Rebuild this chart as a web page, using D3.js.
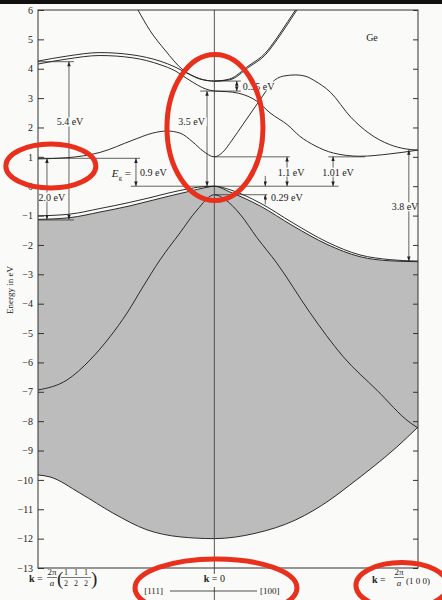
<!DOCTYPE html>
<html>
<head>
<meta charset="utf-8">
<script src="https://cdn.jsdelivr.net/npm/d3@7"></script>
<style>
  html, body { margin: 0; padding: 0; background: #fafaf8; }
  svg { display: block; font-family: "Liberation Serif", "DejaVu Serif", serif; }
</style>
</head>
<body>
<svg id="chart" width="442" height="600"></svg>
<script>
// energy ticks in eV
const energyTicks = [-13, -12, -11, -10, -9, -8, -7, -6, -5, -4, -3, -2, -1, 0, 1, 2, 3, 4, 5, 6];

// bands as [k, E]; k in units of 2π/a, negative = towards L (111), positive = towards X (100)
const bandC1 = [
  [-0.866, 0.93], [-0.724, 0.97], [-0.562, 1.15], [-0.4, 1.57], [-0.302, 1.81], [-0.233, 1.88],
  [-0.169, 1.81], [-0.105, 1.5], [-0.056, 1.2], [0, 1.0], [0.04, 1.15], [0.087, 1.57], [0.14, 2.1],
  [0.2, 2.7], [0.25, 3.2], [0.28, 3.5], [0.34, 3.75], [0.4, 3.79], [0.45, 3.74], [0.49, 3.6],
  [0.57, 3.2], [0.67, 2.35], [0.76, 1.8], [0.86, 1.42], [0.94, 1.27], [1, 1.23]
];
const bandC3 = [
  [-0.375, 6.0], [-0.316, 5.3], [-0.243, 4.64], [-0.154, 3.96], [-0.11, 3.77], [-0.071, 3.65],
  [0, 3.58], [0.074, 3.62], [0.17, 4.06], [0.25, 4.47], [0.307, 4.98], [0.36, 5.52], [0.41, 6.05]
];
const bandC4a = [
  [-0.866, 4.26], [-0.724, 4.43], [-0.562, 4.55], [-0.4, 4.47], [-0.267, 4.26], [-0.193, 4.06],
  [-0.12, 3.8], [-0.071, 3.66], [0, 3.58], [0.074, 3.65], [0.17, 4.11], [0.25, 4.53], [0.307, 5.05],
  [0.36, 5.6], [0.41, 6.12]
];
const bandC4b = [
  [-0.866, 4.16], [-0.724, 4.33], [-0.562, 4.45], [-0.4, 4.37], [-0.267, 4.14], [-0.193, 3.93],
  [-0.12, 3.6], [-0.046, 3.32], [0, 3.24], [0.06, 3.22], [0.117, 3.17], [0.214, 2.87], [0.273, 2.5],
  [0.361, 2.08], [0.42, 1.7], [0.494, 1.38], [0.584, 1.13], [0.715, 1.02], [0.862, 1.1], [1, 1.23]
];
const bandV1a = [
  [-0.866, -1.01], [-0.709, -0.95], [-0.562, -0.76], [-0.415, -0.55], [-0.316, -0.39], [-0.218, -0.22],
  [-0.12, -0.08], [-0.046, -0.01], [0, 0], [0.077, -0.12], [0.224, -0.57], [0.386, -1.25],
  [0.553, -1.9], [0.715, -2.34], [0.862, -2.5], [1, -2.55]
];
const bandV1b = [
  [-0.866, -1.13], [-0.709, -1.07], [-0.562, -0.88], [-0.415, -0.67], [-0.316, -0.5], [-0.218, -0.33],
  [-0.12, -0.17], [-0.046, -0.05], [0, 0], [0.077, -0.2], [0.224, -0.67], [0.386, -1.35],
  [0.553, -1.98], [0.715, -2.4], [0.862, -2.54], [1, -2.57]
];
const bandV2 = [
  [-0.866, -6.94], [-0.724, -6.6], [-0.611, -5.92], [-0.513, -5.13], [-0.429, -4.32], [-0.351, -3.43],
  [-0.267, -2.51], [-0.169, -1.59], [-0.085, -0.81], [0, -0.29], [0.052, -0.45], [0.126, -0.95],
  [0.209, -1.75], [0.307, -2.62], [0.469, -4.3], [0.632, -5.8], [0.799, -6.95], [0.961, -8.05], [1, -8.23]
];
const bandV3 = [
  [-0.866, -9.83], [-0.807, -9.9], [-0.66, -10.45], [-0.498, -11.13], [-0.331, -11.7], [-0.169, -11.94],
  [0, -12.0], [0.2, -11.82], [0.4, -11.36], [0.568, -10.68], [0.666, -10.17], [0.779, -9.56],
  [0.896, -8.88], [1, -8.2]
];

// gap annotations: [k, E from, E to]
const gapArrows = [
  [-0.714, 4.24, -1.13], [-0.822, 0.95, -1.13], [-0.385, 0.95, 0], [-0.036, 3.24, 0],
  [0.11, 3.58, 3.24], [0.357, 1.0, 0], [0.583, 1.01, 0], [0.955, 1.23, -2.55]
];
// guide lines: [E, k from, k to]
const refLines = [
  [4.24, -0.866, -0.69], [-1.15, -0.866, -0.69], [0.95, -0.866, -0.365], [0, -0.41, 0.61],
  [3.24, -0.07, 0.13], [3.58, 0, 0.13], [1.0, 0, 0.37], [1.0, 0.56, 0.74], [-0.29, 0, 0.26]
];
// labels: [k, E, text, anchor]
const gapLabels = [
  [-0.709, 2.19, '5.4 eV', 'middle'], [-0.798, -0.37, '2.0 eV', 'middle'],
  [-0.365, 0.45, '0.9 eV', 'start'], [-0.046, 2.19, '3.5 eV', 'end'],
  [0.14, 3.41, '0.35 eV', 'start'], [0.377, 0.48, '1.1 eV', 'middle'],
  [0.607, 0.48, '1.01 eV', 'middle'], [0.278, -0.4, '0.29 eV', 'start'],
  [0.936, -0.7, '3.8 eV', 'middle'], [0.774, 5.05, 'Ge', 'middle']
];
// highlight ellipses: [k, E, rx px, ry px]
const highlights = [
  [-0.803, 0.69, 45, 22], [0.003, 2.0, 48, 73], [0.008, -13.68, 81, 29], [0.921, -13.6, 46, 23]
];

const svg = d3.select('#chart');
const bg = '#fafaf8';
const ink = '#222';

const x = d3.scaleLinear().domain([-Math.sqrt(3) / 2, 1]).range([38, 418]);
const y = d3.scaleLinear().domain([6, -13]).range([10, 568]);

// scan border at top
svg.append('rect').attr('x', 0).attr('y', 0).attr('width', 442).attr('height', 4).attr('fill', '#111');

const defs = svg.append('defs');
defs.append('clipPath').attr('id', 'frame')
  .append('rect').attr('x', x(-Math.sqrt(3) / 2)).attr('y', y(6))
  .attr('width', x(1) - x(-Math.sqrt(3) / 2)).attr('height', y(-13) - y(6));
defs.append('marker')
  .attr('id', 'ah').attr('viewBox', '0 0 8 6').attr('refX', 8).attr('refY', 3)
  .attr('markerWidth', 5).attr('markerHeight', 3.5).attr('markerUnits', 'userSpaceOnUse')
  .attr('orient', 'auto-start-reverse')
  .append('path').attr('d', 'M0,0L8,3L0,6Z').attr('fill', ink);

const plot = svg.append('g').attr('clip-path', 'url(#frame)');

// shaded valence region
const area = d3.area().x(d => x(d[0])).y0(y(-13)).y1(d => y(d[1])).curve(d3.curveMonotoneX);
plot.append('path').datum(bandV1b).attr('d', area).attr('fill', '#bcbcbc');
plot.append('path').datum(bandV3).attr('d', area).attr('fill', bg);

// k = 0 line
svg.append('line').attr('x1', x(0)).attr('x2', x(0)).attr('y1', y(6)).attr('y2', y(-13) + 6)
  .attr('stroke', '#444').attr('stroke-width', 0.9);
svg.append('line').attr('x1', x(0)).attr('x2', x(0)).attr('y1', 587).attr('y2', 600)
  .attr('stroke', '#444').attr('stroke-width', 0.9);

// bands
const line = d3.line().x(d => x(d[0])).y(d => y(d[1])).curve(d3.curveMonotoneX);
[bandC1, bandC3, bandC4a, bandC4b, bandV1a, bandV1b, bandV2, bandV3].forEach(b => {
  plot.append('path').datum(b).attr('d', line)
    .attr('fill', 'none').attr('stroke', ink).attr('stroke-width', 0.95);
});

// guide lines
svg.selectAll('.ref').data(refLines).enter().append('line')
  .attr('x1', d => x(d[1])).attr('x2', d => x(d[2]))
  .attr('y1', d => y(d[0])).attr('y2', d => y(d[0]))
  .attr('stroke', ink).attr('stroke-width', 0.7);

// double arrows
svg.selectAll('.gap').data(gapArrows).enter().append('line')
  .attr('x1', d => x(d[0])).attr('x2', d => x(d[0]))
  .attr('y1', d => y(d[1])).attr('y2', d => y(d[2]))
  .attr('stroke', ink).attr('stroke-width', 0.7)
  .attr('marker-start', 'url(#ah)').attr('marker-end', 'url(#ah)');
// split-off arrows pointing in from outside
[[0.25, 0.35, 0], [0.25, -0.62, -0.29]].forEach(d => {
  svg.append('line').attr('x1', x(d[0])).attr('x2', x(d[0]))
    .attr('y1', y(d[1])).attr('y2', y(d[2]))
    .attr('stroke', ink).attr('stroke-width', 0.7).attr('marker-end', 'url(#ah)');
});

// labels with paper-coloured backing
function label(k, e, str, anchor, size) {
  const t = svg.append('text').attr('x', x(k)).attr('y', y(e)).attr('dy', '0.35em')
    .attr('text-anchor', anchor).attr('font-size', size || 10).attr('fill', ink).text(str);
  const b = t.node().getBBox();
  svg.insert('rect', () => t.node())
    .attr('x', b.x - 1).attr('y', b.y + 1).attr('width', b.width + 2).attr('height', b.height - 2)
    .attr('fill', bg);
  return t;
}
gapLabels.forEach(d => label(d[0], d[1], d[2], d[3]));
const eg = svg.append('text').attr('x', x(-0.409)).attr('y', y(0.45)).attr('dy', '0.35em')
  .attr('text-anchor', 'end').attr('font-size', 11).attr('fill', ink);
eg.append('tspan').attr('font-style', 'italic').text('E');
eg.append('tspan').attr('font-size', 7).attr('dy', 3).text('g');
eg.append('tspan').attr('dy', -3).text(' =');

// frame and axes
svg.append('rect').attr('x', x(-Math.sqrt(3) / 2)).attr('y', y(6))
  .attr('width', x(1) - x(-Math.sqrt(3) / 2)).attr('height', y(-13) - y(6))
  .attr('fill', 'none').attr('stroke', '#333').attr('stroke-width', 1);

const fmt = d => (d < 0 ? '\u2212' + Math.abs(d) : String(d));
svg.append('g').attr('transform', `translate(${x(-Math.sqrt(3) / 2)},0)`)
  .call(d3.axisLeft(y).tickValues(energyTicks).tickSize(-6).tickPadding(5).tickFormat(fmt))
  .call(g => g.select('.domain').remove())
  .call(g => g.selectAll('line').attr('stroke', '#333'))
  .call(g => g.selectAll('text').attr('font-size', 10).attr('fill', ink)
    .attr('font-family', '"Liberation Serif", serif'));
svg.append('g').attr('transform', `translate(${x(1)},0)`)
  .call(d3.axisRight(y).tickValues(energyTicks).tickSize(-5).tickFormat(''))
  .call(g => g.select('.domain').remove())
  .call(g => g.selectAll('line').attr('stroke', '#333'));

svg.append('text').attr('transform', 'translate(13,290) rotate(-90)')
  .attr('text-anchor', 'middle').attr('font-size', 9).attr('fill', ink).text('Energy in eV');

// k labels along the bottom
function frac(cx, num, den, size) {
  svg.append('text').attr('x', cx).attr('y', 575).attr('text-anchor', 'middle')
    .attr('font-size', size).attr('fill', ink).text(num);
  svg.append('line').attr('x1', cx - 5).attr('x2', cx + 5).attr('y1', 577.5).attr('y2', 577.5)
    .attr('stroke', ink).attr('stroke-width', 0.6);
  svg.append('text').attr('x', cx).attr('y', 585.5).attr('text-anchor', 'middle')
    .attr('font-size', size).attr('fill', ink).attr('font-style', num === '1' ? null : 'italic').text(den);
}
function kEq(x0, yb) {
  const t = svg.append('text').attr('x', x0).attr('y', yb).attr('font-size', 10).attr('fill', ink);
  t.append('tspan').attr('font-weight', 'bold').text('k');
  t.append('tspan').text(' =');
}
kEq(29, 582);
frac(52, '2\u03c0', 'a', 9);
svg.append('text').attr('x', 57).attr('y', 585).attr('font-size', 19).attr('fill', ink)
  .attr('font-weight', 300).text('(');
frac(66, '1', '2', 8);
frac(76, '1', '2', 8);
frac(86, '1', '2', 8);
svg.append('text').attr('x', 91).attr('y', 585).attr('font-size', 19).attr('fill', ink)
  .attr('font-weight', 300).text(')');

const k0 = svg.append('text').attr('x', x(0)).attr('y', 582).attr('text-anchor', 'middle')
  .attr('font-size', 10).attr('fill', ink);
k0.append('tspan').attr('font-weight', 'bold').text('k');
k0.append('tspan').text(' = 0');
svg.append('text').attr('x', 163).attr('y', 594).attr('text-anchor', 'end')
  .attr('font-size', 9).attr('fill', ink).text('[111]');
svg.append('line').attr('x1', 170).attr('x2', 257).attr('y1', 591).attr('y2', 591)
  .attr('stroke', ink).attr('stroke-width', 0.8);
svg.append('text').attr('x', 260).attr('y', 594).attr('font-size', 9).attr('fill', ink).text('[100]');

kEq(372, 583);
frac(399, '2\u03c0', 'a', 9);
svg.append('text').attr('x', 406).attr('y', 584).attr('font-size', 9).attr('fill', ink).text('(1 0 0)');

// red highlight ellipses
svg.selectAll('.hl').data(highlights).enter().append('ellipse')
  .attr('cx', d => x(d[0])).attr('cy', d => y(d[1]))
  .attr('rx', d => d[2]).attr('ry', d => d[3])
  .attr('fill', 'none').attr('stroke', '#e8301c').attr('stroke-width', 5);
</script>
</body>
</html>
